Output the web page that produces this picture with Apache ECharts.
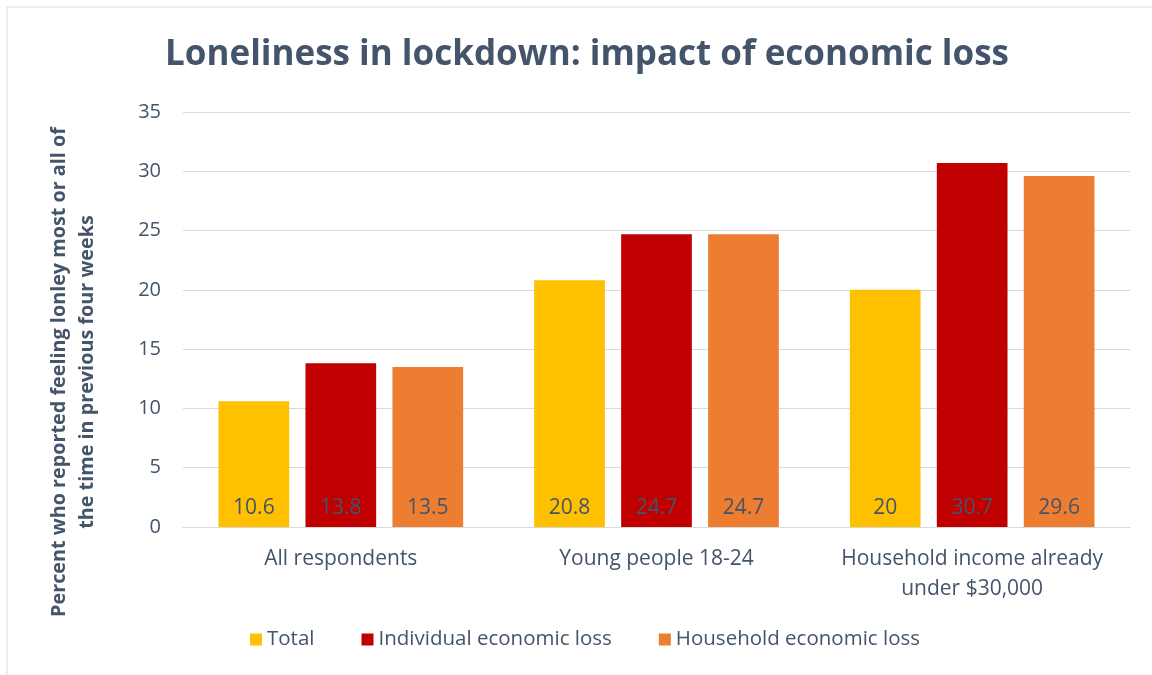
<!DOCTYPE html>
<html>
<head>
<meta charset="utf-8">
<script src="https://cdn.jsdelivr.net/npm/echarts@6/dist/echarts.min.js"></script>
<style>
    html, body {margin: 0; padding: 0; background: #fff;}
    #chart {width: 1152px; height: 675px;}
</style>
</head>
<body>
<div id="chart"></div>
<script>
var categories = ['All respondents', 'Young people 18-24', 'Household income already\nunder $30,000'];
var totalValues = [10.6, 20.8, 20];
var individualValues = [13.8, 24.7, 30.7];
var householdValues = [13.5, 24.7, 29.6];
var yTicks = [0, 5, 10, 15, 20, 25, 30, 35];

var textColor = '#44546A';
var font = '"Open Sans", Lato, sans-serif';

var myChart = echarts.init(document.getElementById('chart'));

var barLabel = {
    show: true,
    position: 'insideBottom',
    distance: 8,
    color: textColor,
    fontSize: 21,
    fontFamily: font
};

var option = {
    animation: false,
    title: {
        text: 'Loneliness in lockdown: impact of economic loss',
        left: 582,
        top: 33,
        textAlign: 'center',
        textStyle: {
            color: textColor,
            fontSize: 35,
            fontWeight: 'bold',
            fontFamily: font
        }
    },
    legend: {
        data: ['Total', 'Individual economic loss', 'Household economic loss'],
        bottom: 20,
        left: 245,
        itemWidth: 12,
        itemHeight: 12,
        itemGap: 47,
        icon: 'rect',
        textStyle: {color: textColor, fontSize: 20.5, fontFamily: font}
    },
    grid: {
        left: 183,
        right: 22,
        top: 112,
        bottom: 148
    },
    graphic: [
        {
            type: 'rect',
            shape: {x: 7, y: 7, width: 1160, height: 680},
            style: {fill: 'none', stroke: '#D9D9D9', lineWidth: 1},
            silent: true
        },
        {
            type: 'text',
            x: 73,
            y: 372,
            rotation: Math.PI / 2,
            style: {
                text: 'Percent who reported feeling lonley most or all of\nthe time in previous four weeks',
                fill: textColor,
                font: 'bold 19.8px ' + font,
                align: 'center',
                verticalAlign: 'middle',
                lineHeight: 28
            }
        }
    ],
    xAxis: {
        type: 'category',
        data: categories,
        axisLine: {lineStyle: {color: '#D9D9D9', width: 1}},
        axisTick: {show: false},
        axisLabel: {
            interval: 0,
            color: textColor,
            fontSize: 21,
            fontFamily: font,
            margin: 17,
            lineHeight: 30
        }
    },
    yAxis: {
        type: 'value',
        min: yTicks[0],
        max: yTicks[yTicks.length - 1],
        interval: 5,
        axisLine: {show: false},
        axisTick: {show: false},
        splitLine: {lineStyle: {color: '#D9D9D9', width: 1}},
        axisLabel: {
            color: textColor,
            fontSize: 20,
            fontFamily: font,
            margin: 22
        }
    },
    series: [
        {
            name: 'Total',
            type: 'bar',
            data: totalValues,
            barGap: '23%',
            barCategoryGap: '22.5%',
            itemStyle: {color: '#FFC000'},
            label: barLabel
        },
        {
            name: 'Individual economic loss',
            type: 'bar',
            data: individualValues,
            itemStyle: {color: '#C00000'},
            label: barLabel
        },
        {
            name: 'Household economic loss',
            type: 'bar',
            data: householdValues,
            itemStyle: {color: '#ED7D31'},
            label: barLabel
        }
    ]
};

myChart.setOption(option);
</script>
</body>
</html>
